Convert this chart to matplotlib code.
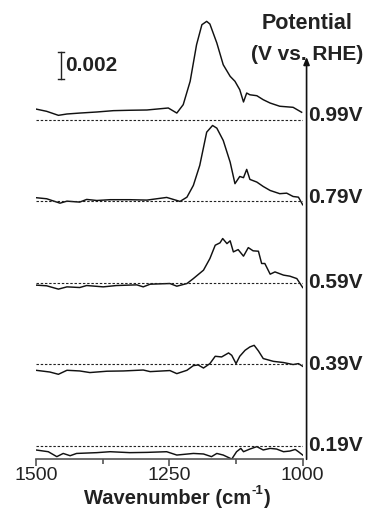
import matplotlib
matplotlib.use("Agg")
import matplotlib.pyplot as plt
import numpy as np

plt.rcParams['font.family'] = ['Liberation Sans', 'DejaVu Sans']

# ---- data (absorbance in units of 1e-3) ----
potentials = ["0.99V", "0.79V", "0.59V", "0.39V", "0.19V"]
offsets = [24.4, 18.3, 12.2, 6.1, 0.0]

wn_099 = [1500, 1480, 1458, 1442, 1418, 1386, 1355, 1324, 1292, 1252, 1236, 1224, 1211, 1199,
          1189, 1180, 1174, 1161, 1149, 1136, 1127, 1118, 1111, 1105, 1099, 1086, 1074, 1061,
          1043, 1018, 1002]
ab_099 = [0.82, 0.65, 0.35, 0.45, 0.52, 0.60, 0.70, 0.73, 0.75, 0.90, 0.52, 1.15, 2.90, 5.64,
          7.14, 7.39, 7.19, 5.77, 4.14, 3.27, 2.90, 2.27, 1.35, 2.02, 1.89, 1.82, 1.52, 1.27,
          1.03, 0.95, 0.58]

wn_079 = [1500, 1480, 1455, 1442, 1418, 1405, 1386, 1361, 1324, 1292, 1255, 1230, 1217, 1205,
          1193, 1180, 1169, 1161, 1149, 1136, 1127, 1118, 1111, 1105, 1099, 1086, 1074, 1061,
          1043, 1030, 1018, 1008, 1000]
ab_079 = [0.28, 0.20, -0.13, 0.02, -0.05, 0.15, 0.07, 0.13, 0.13, 0.10, 0.30, 0.00, 0.32, 1.20,
          2.70, 5.19, 5.69, 5.49, 4.57, 2.94, 1.33, 1.87, 1.78, 2.40, 1.65, 1.45, 1.12, 0.82,
          0.58, 0.62, 0.37, 0.32, -0.25]

wn_059 = [1500, 1480, 1458, 1442, 1418, 1405, 1374, 1349, 1311, 1299, 1286, 1249, 1236, 1217,
          1205, 1186, 1174, 1164, 1155, 1150, 1142, 1136, 1130, 1121, 1111, 1102, 1093, 1083,
          1077, 1071, 1061, 1052, 1036, 1024, 1011, 1000]
ab_059 = [-0.17, -0.22, -0.47, -0.30, -0.35, -0.20, -0.30, -0.20, -0.15, -0.30, -0.10, -0.05,
          -0.25, -0.05, 0.32, 0.95, 1.82, 2.82, 3.00, 3.32, 2.94, 3.15, 2.32, 2.49, 2.00, 2.64,
          2.40, 2.37, 1.45, 1.45, 0.65, 0.82, 0.58, 0.50, 0.32, -0.35]

wn_039 = [1500, 1474, 1458, 1442, 1418, 1399, 1367, 1336, 1299, 1286, 1249, 1236, 1217, 1205,
          1196, 1186, 1174, 1164, 1152, 1139, 1133, 1125, 1118, 1108, 1099, 1091, 1083, 1074,
          1055, 1036, 1018, 1008, 1000]
ab_039 = [-0.45, -0.58, -0.75, -0.45, -0.50, -0.62, -0.52, -0.50, -0.43, -0.55, -0.47, -0.70,
          -0.45, -0.10, -0.05, -0.28, 0.05, 0.60, 0.55, 0.85, 0.67, 0.05, 0.60, 1.05, 1.30,
          1.42, 1.00, 0.43, 0.22, 0.13, -0.02, 0.05, -0.15]

wn_019 = [1500, 1477, 1461, 1449, 1436, 1424, 1386, 1361, 1324, 1292, 1255, 1236, 1205, 1186,
          1171, 1161, 1149, 1133, 1124, 1116, 1111, 1099, 1086, 1074, 1061, 1049, 1036, 1024,
          1014, 1008, 1000]
ab_019 = [-0.32, -0.45, -0.82, -0.58, -0.75, -0.58, -0.52, -0.45, -0.52, -0.50, -0.45, -0.70,
          -0.58, -0.62, -0.82, -0.58, -0.70, -1.00, -0.45, -0.20, -0.45, -0.25, -0.07, -0.32,
          -0.20, -0.25, -0.45, -0.40, -0.28, -0.45, -0.70]

spectra = [(wn_099, ab_099), (wn_079, ab_079), (wn_059, ab_059), (wn_039, ab_039), (wn_019, ab_019)]
xticks = [1500, 1250, 1000]
minor_xticks = [1375, 1125]
scale_bar = 2.0  # = 0.002 absorbance

# ---- figure ----
fig = plt.figure(figsize=(3.67, 5.09), dpi=100)
ax = fig.add_axes([0.0981, 0.0976, 0.7267, 0.9024])
ax.set_xlim(1500, 1000)
ax.set_ylim(-1.02, 33.39)

for (wn, ab), off in zip(spectra, offsets):
    ax.plot(wn, np.array(ab) + off, color='#111111', lw=1.05)
    ax.axhline(off, color='#222222', lw=0.8, ls=(0, (2.2, 1.6)))

for lab, off, dy in zip(potentials, offsets, [0.35, 0.3, 0.05, 0, 0]):
    ax.text(1.02, off + dy, lab, transform=ax.get_yaxis_transform(), ha='left', va='center',
            fontsize=15, fontweight='bold', color='#222222', clip_on=False)

# scale bar
sb_x, sb_y0 = 1453, 27.47
ax.plot([sb_x, sb_x], [sb_y0, sb_y0 + scale_bar], color='#222222', lw=1.0)
ax.plot([sb_x - 5, sb_x + 5], [sb_y0, sb_y0], color='#222222', lw=1.0)
ax.plot([sb_x - 5, sb_x + 5], [sb_y0 + scale_bar, sb_y0 + scale_bar], color='#222222', lw=1.0)
ax.text(sb_x - 8, sb_y0 + scale_bar / 2, "0.002", ha='left', va='center',
        fontsize=15, fontweight='bold', color='#222222')

# potential arrow
ax.annotate("", xy=(1.0145, 0.876), xytext=(1.0145, 0.0), xycoords='axes fraction',
            arrowprops=dict(arrowstyle='-|>,head_length=0.45,head_width=0.18', color='#111111',
                            lw=1.2, shrinkA=0, shrinkB=0), annotation_clip=False)
fig.text(0.837, 0.953, "Potential", ha='center', va='center', fontsize=15.5,
         fontweight='bold', color='#222222')
fig.text(0.837, 0.893, "(V vs. RHE)", ha='center', va='center', fontsize=15,
         fontweight='bold', color='#222222')

# axes styling
for s in ['left', 'right', 'top']:
    ax.spines[s].set_visible(False)
ax.spines['bottom'].set_color('#555555')
ax.spines['bottom'].set_linewidth(1.2)
ax.set_yticks([])
ax.set_xticks(xticks)
ax.set_xticks(minor_xticks, minor=True)
ax.tick_params(axis='x', which='major', length=5, width=1.2, color='#555555',
               labelsize=14, labelcolor='#222222', pad=0.5)
ax.tick_params(axis='x', which='minor', length=3.5, width=1.2, color='#555555')

# x label built from pieces: "Wavenumber (cm" + superscript "-1" + ")"
W, H = fig.get_size_inches() * fig.dpi
base_y = 5.5 / H
kw = dict(fontweight='bold', color='#222222', va='baseline', ha='left')
t1 = fig.text(0, base_y, "Wavenumber (cm", fontsize=14.5, **kw)
t2 = fig.text(0, base_y + 9.0 / H, "-1", fontsize=9.5, **kw)
t3 = fig.text(0, base_y, ")", fontsize=14.5, **kw)
fig.canvas.draw()
r = fig.canvas.get_renderer()
w1 = t1.get_window_extent(r).width
w2 = t2.get_window_extent(r).width
w3 = t3.get_window_extent(r).width
total = w1 + w2 + w3 + 1
center_px = 177.0
x0 = center_px - total / 2
t1.set_x(x0 / W)
t2.set_x((x0 + w1 + 0.5) / W)
t3.set_x((x0 + w1 + w2 + 1) / W)

fig.savefig("out.png", dpi=100)
